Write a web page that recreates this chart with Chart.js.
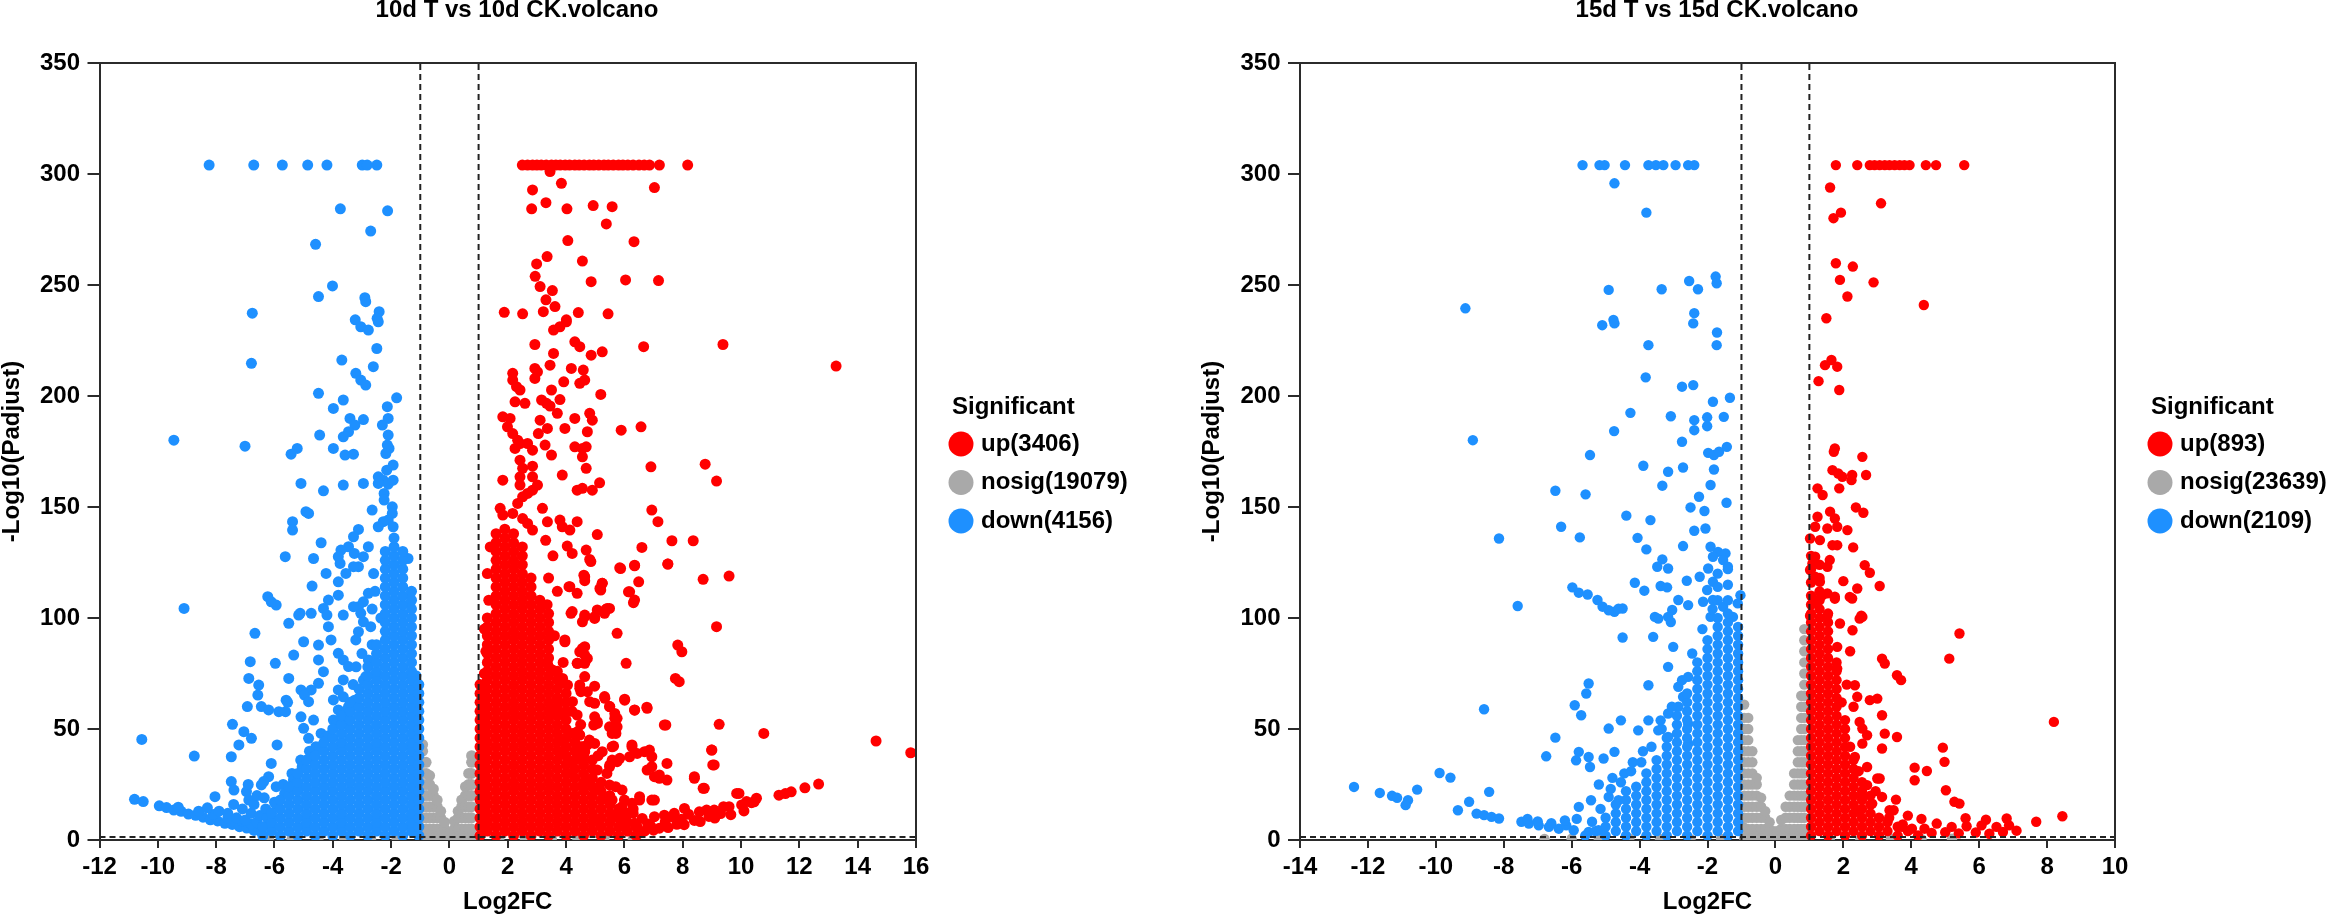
<!DOCTYPE html>
<html>
<head>
<meta charset="utf-8">
<script src="https://cdn.jsdelivr.net/npm/chart.js@4.4.1/dist/chart.umd.min.js"></script>
<style>
  body { margin: 0; background: #fff; }
  #wrap { position: relative; width: 2328px; height: 917px; overflow: hidden; }
  canvas { position: absolute; top: 0; }
</style>
</head>
<body>
<div id="wrap">
  <canvas id="c10" width="1164" height="917" style="left:0px;width:1164px;height:917px"></canvas>
  <canvas id="c15" width="1128" height="917" style="left:1200px;width:1128px;height:917px"></canvas>
</div>
<script>
// ---------- 10d T vs 10d CK ----------
var xTicks10 = [-12, 16];          // x range, step 2
var yTicks = [0, 350];             // y range, step 50
var counts10 = { up: 3406, nosig: 19079, down: 4156 };

// scattered points [log2FC, -log10(padj)]
var up10 = [
  [2.5,304],[2.68,304],[2.85,304],[3.0,304],[3.15,304],[3.32,304],[3.5,304],[3.65,304],[3.8,304],[3.97,304],
  [4.12,304],[4.3,304],[4.45,304],[4.62,304],[4.8,304],[4.95,304],[5.12,304],[5.3,304],[5.45,304],[5.62,304],
  [5.8,304],[5.95,304],[6.12,304],[6.3,304],[6.5,304],[6.68,304],[6.86,304],[7.2,304],[8.17,304],
  [3.45,301.1],[3.84,295.8],[2.85,292.8],[7.03,293.9],[3.31,287.1],[2.82,284.3],[4.03,284.3],[4.93,285.8],
  [5.58,285.3],[5.38,277.5],[4.06,270],[6.33,269.5],[3.35,262.8],[2.99,259.5],[4.56,260.8],[2.94,253.9],
  [3.11,249.3],[3.53,247.5],[4.86,251.5],[6.04,252.3],[7.17,252],[3.31,243.3],[3.62,240.3],[1.88,237.7],
  [2.51,237],[3.22,238],[4.42,237.6],[5.44,237],[4.01,234.3],[13.26,213.5],
  [3.57,229.7],[3.79,231.2],[4.01,233.4],[2.93,223.2],[4.3,224.4],[4.47,222.2],[3.57,219.2],[4.86,218.4],
  [5.24,219.9],[6.66,222.2],[9.38,223.2],[2.17,210.2],[2.17,207.2],[2.3,204.2],[2.42,202.7],[2.93,212.4],
  [2.93,207.9],[3.02,210.9],[3.45,213.9],[4.18,212.4],[4.59,211.7],[4.64,207.2],[4.47,205.7],[3.92,206.4],
  [3.5,202.7],[5.19,200.7],[2.25,197.4],[2.59,196.7],[3.16,198.2],[3.33,196.7],[3.45,195.5],[3.79,198.4],
  [1.83,190.6],[2.08,189.9],[1.99,186.1],[2.17,183.1],[2.34,180.1],[3.11,189.1],[3.7,192.2],[4.3,189.9],
  [4.81,192.2],[4.9,189.1],[3.05,183.1],[3.36,185.4],[3.96,185.4],[4.73,183.9],[5.89,184.6],[6.57,186.1],
  [2.68,178.6],[2.85,175.6],[2.25,176.4],[2.42,178.6],[3.28,177.9],[3.5,173.4],[4.3,177.1],[4.56,176.4],
  [4.69,177.1],[4.56,172.6],[2.42,171.1],[2.51,167.4],[2.85,168.4],[4.69,167.4],[6.91,168.1],[8.77,169.3],
  [1.83,162.1],[2.42,163.6],[2.42,159.9],[3.02,159.9],[2.85,163.6],[3.87,164.4],[4.38,157.6],[4.56,158.4],
  [5.15,160.9],[4.9,157.6],[9.16,161.7],[2.51,154.6],[2.34,151.6],[2.68,156.1],[2.85,157.6],[1.74,149.4],
  [1.83,146.4],[2.17,147.1],[3.19,149.4],[2.51,144.8],[2.68,142.6],[2.85,139.6],[3.36,143.3],[3.79,144.1],
  [3.87,141.1],[4.38,143.4],[4.13,139.6],[6.94,148.6],[7.15,143.4],[5.07,137.6],[7.63,134.8],[8.36,134.8],
  [6.6,131.8],[7.49,124.3],[5.84,122.6],[6.35,123.5],[8.7,117.4],[9.59,118.9],[6.18,111.8],[6.35,108.1],
  [5.24,115.6],[5.19,112.6],[4.69,130.6],[4.81,126.4],[4.04,132.4],[4.21,129.1],[4.64,118.6],[4.13,114.1],
  [4.38,111.1],[5.49,104.3],[5.32,102.1],[3.3,135],[3.55,128],[3.4,118],[3.7,112],[3.35,106],
  [5.75,93.1],[6.31,106.9],[5.37,103.9],[4.98,100.6],[4.64,101.3],[4.21,102.9],[9.16,96.1],[7.83,87.8],
  [7.97,84.8],[6.06,79.6],[7.75,72.8],[7.88,71.3],[6.01,63.4],[6.35,58.6],[6.77,59.8],[7.42,51.8],
  [9.25,52.1],[10.78,48],[9.0,40.5],[9.03,33.8],[8.4,27.8],[8.7,23.3],[9.93,21],[6.94,33],[7.2,29.3],
  [6.26,42.8],[6.69,39.8],[6.94,37.5],[5.92,22.5],[6.52,18],[6.94,18],[5.58,42],[5.75,35.3],[5.49,33],
  [5.49,51],[5.71,48],[5.75,54.8],[5.32,64.6],[5.49,60.1],[4.98,61.6],[5.07,52.5],[4.98,55.5],[4.64,73.6],
  [4.47,68.3],[4.73,66.8],[4.47,84.8],[4.73,81.8],[4.64,87.1],[4.38,79.6],[3.96,89.3],[4.38,56.3],[4.21,48],
  [4.47,42],[4.56,36],[3.87,45],[3.87,39],[4.04,34.5],[3.7,63.1],[3.53,58.6],[3.87,57],[3.36,79.6],
  [3.53,76.6],[3.87,70.6],[4.98,43.5],[5.24,39.8],[5.07,31.5],[4.73,27],[5.07,23.3],[5.49,24.8],[5.92,15],
  [6.26,16.5],[5.58,18],
  [4.85,125.4],[5.87,122.3],[6.35,123.8],[7.49,124.3],[4.61,119.3],[4.64,116.8],[5.16,113.3],[5.24,115.6],
  [4.1,114.1],[6.14,111.8],[6.49,116.3],[5.07,103.6],[5.41,104.3],[4.17,102.1],[4.56,98.3],[4.64,100.6],
  [4.98,99.8],[3.96,90.1],[4.56,86.3],[4.64,83.3],[4.39,79.6],[4.64,79.6],[3.88,72.8],[4.05,69.8],
  [4.47,69.8],[4.51,66.8],[4.81,62.3],[4.22,62.3],[4.98,69.3],[6.01,63],[5.33,63.8],[5.5,60.1],[5.67,57],
  [6.35,58.5],[6.78,59.3],[7.37,51.8],[14.63,44.6],[15.82,39.3],[4.95,51.8],[5.07,53.3],[5.58,48],[5.75,51],
  [5.67,54.8],[4.39,48.8],[4.47,47.3],[4.56,42],[4.73,42.8],[4.47,39],[4.64,39.8],[5.63,42.3],[6.26,42],
  [6.44,39],[6.86,40.5],[8.99,40.5],[9.08,33.8],[5.84,36.8],[6.18,37.5],[5.5,33.8],[5.58,36],[4.98,31.5],
  [4.05,30],[6.78,31.5],[7.03,28.5],[7.2,27.8],[7.46,27],[8.4,28.5],[8.74,23.3],[7.46,34.5],[6.52,19.5],
  [7.03,18],[5.41,18.8],[9.85,21],[8.06,14.2],[8.57,12.7],[9.08,13.5],[9.59,15],[10.02,15.8],[10.36,16.8],
  [6.61,9.7],[7.03,10.5],[7.37,11.2],[7.71,12],[6.01,6.7],[6.35,7.5],
  [10.45,17.2],[11.3,20.2],[11.52,20.9],[11.72,21.7],[12.19,23.5],[12.66,25.2],[6.43,6],[6.8,7.2],
  [7.63,10.5],[8.2,11.6],[8.82,13.5],[9.4,15],[10.19,17.3],[10.53,18.8],[6.7,4.1],[7.2,5.3],[7.8,7.1],
  [8.4,8.8],[6.5,3.1],[7.0,4.4],[7.5,5.6],[8.05,6.9],[8.6,8.3],[9.1,9.9],[9.65,11.4],[10.1,13.1],
  [9.3,11.9],[8.9,10.6],[7.95,9.4],[7.4,8.2],[6.9,6.3],[5.1,8.5],[5.6,10.2],[6.3,12.1],[6.0,11],
  [1.2,75],[1.25,85],[1.2,95],[1.35,108],[1.3,120],[1.4,132],[3.6,92],[3.9,80],[4.2,58],[4.5,52],
  [4.8,45],[5.1,38],[5.4,30],[5.7,24],[6.0,18],[6.3,14]
];
// dense part: [log2FC, y, y, ...] column by column
var up10Fill = [
  [1.05,2,6,10,14,18,22,26,30,34,38,42,46,50,54,58,62,66,70],
  [1.3,4,8,12,16,20,24,28,32,36,40,44,48,52,56,60,64,68,72,76,80,84,88,92,96,100],
  [1.6,2,6,10,14,18,22,26,30,34,38,42,46,50,54,58,62,66,70,74,78,82,86,90,94,98,102,106,110,114,118,122,126,130,134,138],
  [1.9,4,8,12,16,20,24,28,32,36,40,44,48,52,56,60,64,68,72,76,80,84,88,92,96,100,104,108,112,116,120,124,128,132,136,140],
  [2.2,2,6,10,14,18,22,26,30,34,38,42,46,50,54,58,62,66,70,74,78,82,86,90,94,98,102,106,110,114,118,122,126,130,134,138],
  [2.5,4,8,12,16,20,24,28,32,36,40,44,48,52,56,60,64,68,72,76,80,84,88,92,96,100,104,108,112,116,120,124,128,132],
  [2.8,2,6,10,14,18,22,26,30,34,38,42,46,50,54,58,62,66,70,74,78,82,86,90,94,98,102,106,110,114,118],
  [3.1,4,8,12,16,20,24,28,32,36,40,44,48,52,56,60,64,68,72,76,80,84,88,92,96,100,104,108],
  [3.4,2,6,10,14,18,22,26,30,34,38,42,46,50,54,58,62,66,70,74,78,82,86,90,94,98,102],
  [3.7,4,8,12,16,20,24,28,32,36,40,44,48,52,56,60,64,68,72,76],
  [4.0,2,6,10,14,18,22,26,30,34,38,42,46,50,54,58,62,66],
  [4.3,4,8,12,16,20,24,28,32,36,40,44,48],
  [4.6,2,6,10,14,18,22,26,30,34,38,42],
  [4.9,4,8,12,16,20,24,28,32,36],
  [5.2,2,6,10,14,18,22,26],
  [5.5,4,8,12,16,20],
  [5.8,2,6,10,14],
  [6.1,4,8,12],
  [6.4,2,6]
];

var down10 = [
  [-8.24,304],[-6.71,304],[-5.73,304],[-4.86,304],[-4.2,304],[-2.99,304],[-2.82,304],[-2.49,304],
  [-3.74,284.3],[-2.12,283.4],[-2.7,274.3],[-4.59,268.3],[-4.01,249.6],[-4.49,244.8],[-2.9,244.3],
  [-2.87,242.5],[-6.76,237.3],[-2.41,238],[-3.23,234.3],[-2.48,235],[-3.04,231.2],[-2.78,229.7],
  [-2.44,233.4],[-2.49,221.4],[-2.61,213.2],[-3.69,216.2],[-6.79,214.7],[-3.21,210.2],[-3.04,207.2],
  [-2.87,204.9],[-4.49,201.2],[-3.64,198.2],[-3.98,194.4],[-1.81,199.2],[-2.13,195.2],[-2.1,189.9],
  [-3.41,189.9],[-3.24,186.9],[-3.64,181.6],[-3.46,183.9],[-2.95,189.4],[-2.3,186.9],[-4.45,182.4],
  [-9.45,180.1],[-7.01,177.4],[-2.1,182.4],[-2.13,177.9],[-2.07,176.4],[-2.18,174.1],[-3.98,176.4],
  [-3.58,173.4],[-3.29,173.8],[-5.22,176.4],[-5.43,173.8],[-1.93,168.9],[-2.15,166.6],[-2.44,163.6],
  [-2.27,162.1],[-2.1,160.3],[-1.93,162.1],[-2.44,160.6],[-2.95,160.6],[-3.64,159.9],[-5.09,160.6],
  [-4.32,157.3],[-2.24,156.1],[-2.24,153.1],[-1.96,150.1],[-1.96,147.1],[-2.1,144.1],[-1.93,141.1],
  [-2.27,143.4],[-2.44,141.1],[-2.65,148.6],[-4.83,147.1],[-4.92,147.9],[-5.38,143.4],[-5.38,139.6],
  [-4.4,133.9],[-3.12,139.9],[-3.29,136.6],[-3.46,132.1],[-3.26,129.1],[-3.72,130.6],[-3.81,127.6],
  [-3.75,124.6],[-5.63,127.6],[-4.66,126.8],[-2.78,132.1],[-2.95,127.6],[-3.12,123.1],[-3.29,123.1],
  [-4.23,120.1],[-3.55,120.1],[-4.71,114.4],[-3.81,116.3],[-6.23,109.6],[-5.94,105.8],[-4.32,104.3],
  [-4.15,108.1],[-3.81,110.3],[-2.78,111.1],[-2.95,107.3],[-3.12,105.1],[-9.1,104.3],[-5.12,102.1],
  [-4.74,102.1],[-1.42,126.8],[-2.6,120],[-2.55,112],[-2.65,104],
  [-10.55,45.3],[-10.8,18.3],[-10.5,17.3],[-8.75,37.8],[-8.04,19.5],[-7.44,52.1],[-7.05,48.8],
  [-6.79,45.8],[-7.22,42.8],[-7.48,37.5],[-7.48,26.3],[-7.39,22.5],[-6.96,21.8],[-6.88,18],[-6.83,80.3],
  [-6.88,72.8],[-6.93,60.1],[-6.67,93.1],[-6.54,69.8],[-6.57,65.3],[-6.11,107.3],[-5.97,79.6],
  [-6.45,60.1],[-6.2,58.6],[-5.85,57.8],[-5.51,72.8],[-5.91,42.8],[-5.6,63],[-5.55,62],[-5.62,57.8],
  [-6.11,34.5],[-6.2,28.5],[-6.37,26.3],[-6.45,24.8],[-5.94,24],[-5.51,22.5],[-5.17,24],[-5.51,97.6],
  [-5.17,101.3],[-5.34,83.3],[-5.0,89.3],[-4.49,87.8],[-4.06,90.1],[-4.15,96.1],[-3.64,101.3],
  [-4.2,101.3],[-4.49,81.1],[-4.32,75.8],[-4.74,67.6],[-5.09,67.6],[-4.97,65.3],[-4.49,70.6],
  [-4.83,62.3],[-5.09,55.5],[-5.0,50.3],[-4.83,45.8],[-4.58,42],[-4.66,54],[-4.4,48],[-4.23,46.5],
  [-3.81,84.1],[-3.64,81.1],[-3.46,78.1],[-3.64,72.1],[-3.81,67.6],[-3.98,63.1],[-3.64,64.5],
  [-3.46,60.1],[-3.81,58.6],[-3.98,54],[-3.64,52.5],[-3.21,90.1],[-3.12,93.8],[-2.7,96.1],[-2.95,98.3],
  [-3.04,102.1],[-3.29,105.1],[-2.78,81.1],[-2.87,73.6],[-3.3,70],[-3.2,78],[-3.0,84],
  [-9.95,15.4],[-9.7,14.6],[-9.45,13.5],[-9.2,12.9],[-8.95,11.7],[-8.7,11.1],[-8.45,10.3],[-8.2,9.1],
  [-7.95,8.6],[-7.7,7.5],[-7.45,7.0],[-7.2,6.0],[-6.95,5.4],[-6.7,4.3],[-6.45,3.6],[-9.3,14.8],
  [-8.6,13.0],[-8.1,11.5],[-7.6,9.8],[-7.1,8.5],[-6.8,7.2],[-7.9,13],[-8.3,14.5],[-7.6,12],[-7.3,10],
  [-7.0,9],[-6.8,12],[-6.6,8],[-7.1,14],[-6.7,16],[-6.5,11],[-7.4,16],[-6.9,25],[-6.6,20],[-6.3,14],
  [-6.35,19],[-6.0,17],[-5.7,25],[-5.4,30],[-5.1,36],[-4.8,40],
  [-6.25,10],[-5.95,16],[-5.65,21],[-5.35,27],[-5.05,33],[-4.75,37],[-4.45,42],[-4.15,47],[-3.85,53],
  [-3.55,58],[-3.25,63],[-2.95,72],[-2.65,88],[-2.35,100],[-1.15,74]
];
var down10Fill = [
  [-6.4,2,6],
  [-6.1,4,8,12],
  [-5.8,2,6,10,14,18],
  [-5.5,4,8,12,16,20,24],
  [-5.2,2,6,10,14,18,22,26,30],
  [-4.9,4,8,12,16,20,24,28,32,36],
  [-4.6,2,6,10,14,18,22,26,30,34,38],
  [-4.3,4,8,12,16,20,24,28,32,36,40,44],
  [-4.0,2,6,10,14,18,22,26,30,34,38,42,46,50],
  [-3.7,4,8,12,16,20,24,28,32,36,40,44,48,52,56],
  [-3.4,2,6,10,14,18,22,26,30,34,38,42,46,50,54,58,62],
  [-3.1,4,8,12,16,20,24,28,32,36,40,44,48,52,56,60,64,68],
  [-2.8,2,6,10,14,18,22,26,30,34,38,42,46,50,54,58,62,66,70,74,78],
  [-2.5,4,8,12,16,20,24,28,32,36,40,44,48,52,56,60,64,68,72,76,80,84,88],
  [-2.2,2,6,10,14,18,22,26,30,34,38,42,46,50,54,58,62,66,70,74,78,82,86,90,94,98,102,106,110,114,118,122,126,130],
  [-1.9,4,8,12,16,20,24,28,32,36,40,44,48,52,56,60,64,68,72,76,80,84,88,92,96,100,104,108,112,116,120,124,128,132,136],
  [-1.6,2,6,10,14,18,22,26,30,34,38,42,46,50,54,58,62,66,70,74,78,82,86,90,94,98,102,106,110,114,118,122,126,130],
  [-1.3,4,8,12,16,20,24,28,32,36,40,44,48,52,56,60,64,68,72,76,80,84,88,92,96,100,104,108,112],
  [-1.05,2,6,10,14,18,22,26,30,34,38,42,46,50,54,58,62,66,70]
];

var nosig10 = [
  [-6.2,0.6],[-5.4,0.4],[-4.5,0.7],[-3.6,0.5],[-2.7,0.4],[-1.8,0.6],
  [1.7,0.5],[2.6,0.4],[3.5,0.7],[4.4,0.5],[5.3,0.6],[6.3,0.4]
];
var nosig10Fill = [
  [-0.92,1,5,10,15,20,25,30,35,40,43],
  [-0.8,1,5,10,15,20,25,30,35],
  [-0.68,1,5,10,15,20,25,29],
  [-0.55,1,5,10,15,20,23],
  [-0.42,1,5,10,15,18],
  [-0.3,1,5,10,13],
  [-0.17,1,5,8],
  [-0.05,1,3.5],
  [0.05,1,3.5],
  [0.17,1,5,8.5],
  [0.3,1,5,10,13],
  [0.42,1,5,10,15,18],
  [0.55,1,5,10,15,20,24],
  [0.66,1,5,10,15,20,25,30],
  [0.76,1,5,10,15,20,25,30,35,38]
];

// ---------- 15d T vs 15d CK ----------
var xTicks15 = [-14, 10];
var counts15 = { up: 893, nosig: 23639, down: 2109 };

var up15 = [
  [1.78,304],[2.41,304],[2.78,304],[2.92,304],[3.07,304],[3.22,304],[3.36,304],[3.51,304],[3.66,304],
  [3.8,304],[3.95,304],[4.43,304],[4.73,304],[5.56,304],
  [1.61,293.9],[3.11,286.8],[1.93,282.6],[1.71,280.1],[1.78,259.8],[2.28,258.3],[1.9,252.3],[2.89,251.2],
  [2.12,244.8],[4.37,241],[1.5,235],[1.46,213.9],[1.65,216.2],[1.82,213.2],[1.27,206.7],[1.88,202.7],
  [1.72,174.9],[1.75,176.4],[2.56,172.6],[1.68,166.6],[1.85,165.1],[1.97,163.6],[2.26,164.4],[2.67,164.4],
  [2.24,162.1],[1.24,158.4],[1.39,155.4],[1.88,158.4],[2.37,149.8],[2.59,147.4],[1.24,145.6],[1.61,147.9],
  [1.75,144.8],[1.17,141.1],[1.53,140.3],[1.82,141.1],[2.12,139.6],[1.02,135.8],[1.31,135.1],[1.68,132.8],
  [1.82,132.8],[2.29,131.8],[1.17,127.6],[1.09,124.6],[1.6,126.1],[1.53,123.1],[1.02,121.6],[2.63,123.8],
  [2.78,120.4],[1.17,118.6],[1.31,116.3],[2.0,116.6],[2.41,113.3],[3.07,114.4],[1.39,110.3],[1.53,111.1],
  [1.75,109.6],[2.26,108.8],[1.09,106.6],[1.24,108.1],[1.02,101],[1.53,101],[2.53,101],
  [5.42,93],[5.12,81.7],[3.14,81.7],[3.22,79.5],[3.58,74.2],[3.7,72],[8.2,53.2],[4.93,41.6],[4.98,35.2],
  [4.1,32.6],[4.46,31.1],[4.1,26.9],[5.02,22.4],[3.55,18.2],[3.48,13.4],[5.27,17.2],[5.42,16.4],[4.75,7.4],
  [5.19,5.9],[5.63,6.2],[6.07,6.6],[6.51,5.9],[6.81,9.7],[6.88,6.6],[7.68,8.2],[8.45,10.7],[3.73,5.9],
  [4.02,5.1],[4.39,5.1],[3.36,13.4],[3.14,19.4],[3.07,27.7],[3.22,47.9],[3.14,41.2],[3.58,46.4],[2.7,47.2],
  [2.56,43.4],[2.41,64.5],[2.78,63],[3.0,63.7],[3.14,56.2],[2.48,53.2],[2.56,50.2],[2.34,69.7],[1.9,97.5],
  [2.27,94.5],[2.56,100.5],[2.48,99.7],[2.19,109.5],[1.75,108.7],[1.82,87],[1.82,77.2],[2.34,37.4],[2.7,32.9],
  [3.0,27.7],[2.7,24.7],[2.56,19.4],[2.85,16.4],[2.41,13.4],[4.6,3.2],[5.0,3.5],[5.4,3.0],[5.9,3.4],
  [6.3,2.8],[6.7,3.6],[7.1,4.2],[5.6,9.8],[6.2,9.1],[4.3,9.5],[3.9,11],[2.2,85],[2.1,70],[2.3,60],
  [3.35,10],[3.75,7],[2.95,22],[2.2,42],[2.45,31],[1.95,62]
];
var up15Fill = [
  [1.05,2,6,10,14,18,22,26,30,34,38,42,46,50,54,58,62,66,70,74,78,82,86,90,94,98,102,106,110,116,122,128],
  [1.3,4,8,12,16,20,24,28,32,36,40,44,48,52,56,60,64,68,72,76,80,84,88,92,96,100,104,108,112,118,124],
  [1.55,2,6,10,14,18,22,26,30,34,38,42,46,50,54,58,62,66,70,74,78,82,86,90,94,98,102],
  [1.8,4,8,12,16,20,24,28,32,36,40,44,48,52,56,60,64,68,72,76,80],
  [2.05,2,6,10,14,18,22,26,30,34,38,42,46,50,54],
  [2.3,4,8,12,16,20,24,28,32,36],
  [2.55,2,6,10,14,18,22,26],
  [2.8,4,8,12,16,20],
  [3.05,2,6,10],
  [3.3,4,8],
  [3.6,2,6],
  [3.9,4],
  [4.2,2]
];

var down15 = [
  [-5.68,304],[-5.18,304],[-5.03,304],[-4.43,304],[-3.74,304],[-3.52,304],[-3.3,304],[-2.94,304],
  [-2.57,304],[-2.39,304],
  [-4.74,295.8],[-3.8,282.6],[-1.76,253.8],[-1.73,250.8],[-2.54,251.8],[-2.28,248.1],[-3.35,248.1],
  [-4.91,247.8],[-9.13,239.5],[-2.39,237.3],[-4.77,234.3],[-2.42,232.7],[-5.1,231.9],[-4.74,232.7],
  [-1.72,228.6],[-1.73,222.9],[-3.74,222.9],[-3.82,208.4],[-2.75,204.2],[-2.42,204.9],[-1.34,199.2],
  [-1.84,197.4],[-4.27,192.4],[-3.08,190.9],[-2.39,189.1],[-2.01,190.4],[-1.52,190.6],[-2.01,186.4],
  [-2.39,184.6],[-8.91,180.1],[-4.75,184.2],[-2.75,179.4],[-1.98,174.4],[-1.81,173.4],[-1.66,174.9],
  [-1.43,177.1],[-5.46,173.4],[-3.89,168.6],[-3.16,165.9],[-2.72,167.8],[-1.81,166.9],[-1.91,159.9],
  [-3.33,159.6],[-6.48,157.3],[-5.59,155.7],[-2.25,154.6],[-2.5,149.8],[-2.09,148.2],[-1.44,151.9],
  [-4.39,146.1],[-3.68,144.1],[-6.31,141.1],[-5.76,136.3],[-8.14,135.8],[-2.39,139.3],[-2.06,140.3],
  [-4.06,136.1],[-2.72,132.4],[-3.8,130.9],[-1.91,132.1],[-1.69,129.8],[-1.47,129.1],[-1.84,127.6],
  [-1.54,126.1],[-1.4,123.1],[-1.98,122.3],[-3.33,126.4],[-3.48,123.1],[-3.16,122.3],[-4.14,115.9],
  [-3.86,112.3],[-3.38,114.4],[-3.19,113.8],[-2.61,116.8],[-2.23,118.6],[-1.84,116.3],[-2.01,112.6],
  [-1.03,110.3],[-5.98,113.8],[-5.79,111.4],[-5.53,110.6],[-7.59,105.4],[-5.24,108.1],[-5.09,105.1],
  [-4.74,102.8],[-4.5,104.3],[-2.86,108.1],[-2.57,105.8],[-2.13,107.3],[-1.84,108.1],[-1.54,105.1],
  [-1.11,106.6],[-3.04,103.6],[-3.55,100.5],[-3.16,100.5],[-1.91,100.5],[-1.25,100.5],
  [-4.5,91.2],[-3.45,99.7],[-3.08,98.2],[-4.91,103.5],[-4.62,104.2],[-8.58,58.9],[-5.5,70.5],[-5.57,66],
  [-5.91,60.7],[-5.72,56.2],[-6.48,46.1],[-6.75,37.7],[-5.87,35.9],[-5.79,39.7],[-5.5,37.4],[-5.46,32.9],
  [-5.06,36.7],[-4.74,39.7],[-4.91,50.2],[-4.55,53.9],[-4.04,49.4],[-3.74,69.7],[-3.74,53.9],[-3.38,53.9],
  [-9.89,30.2],[-9.57,28.1],[-12.41,23.9],[-11.65,21.2],[-11.29,19.9],[-11.14,19],[-10.82,17.9],
  [-10.89,15.7],[-10.55,22.7],[-9.35,13.4],[-9.02,17.2],[-8.43,21.7],[-8.8,11.9],[-8.58,11.2],[-8.36,10.4],
  [-8.14,9.7],[-7.48,8.2],[-7.26,7.4],[-6.97,6.6],[-6.67,5.9],[-6.38,5.1],[-6.16,6.6],[-5.79,14.9],
  [-5.43,17.9],[-4.91,19.4],[-4.62,17.9],[-5.94,4.4],[-5.5,3.6],[-5.21,4.4],
  [-3.6,91.5],[-3.01,87],[-3.16,78],[-2.86,69],[-2.57,73.5],[-2.72,64.5],[-2.86,60],[-3.16,57],
  [-3.45,49.4],[-3.16,46.4],[-2.57,43.4],[-2.57,52.4],[-4.2,35],[-4.45,30],[-3.9,40],[-5.2,25],[-4.8,28],
  [-7.3,9.5],[-7.0,8.4],[-6.6,7.6],[-6.2,8.8],[-5.85,9.5],[-5.4,8.2],[-5.15,14],[-4.85,23],[-4.55,26],
  [-4.25,31],[-3.95,35],[-3.65,42],[-3.35,50],[-3.05,60],[-2.75,72],[-2.45,84],[-2.15,95],[-1.85,104]
];
var down15Fill = [
  [-5.6,2],
  [-5.3,4],
  [-5.0,2,6,10],
  [-4.7,4,8,12,16],
  [-4.4,2,6,10,14,18,22],
  [-4.1,4,8,12,16,20,24],
  [-3.8,2,6,10,14,18,22,26,30],
  [-3.5,4,8,12,16,20,24,28,32,36],
  [-3.2,2,6,10,14,18,22,26,30,34,38,42,46],
  [-2.9,4,8,12,16,20,24,28,32,36,40,44,48,52,56],
  [-2.6,2,6,10,14,18,22,26,30,34,38,42,46,50,54,58,62,66],
  [-2.3,4,8,12,16,20,24,28,32,36,40,44,48,52,56,60,64,68,72,76,80],
  [-2.0,2,6,10,14,18,22,26,30,34,38,42,46,50,54,58,62,66,70,74,78,82,86,90],
  [-1.7,4,8,12,16,20,24,28,32,36,40,44,48,52,56,60,64,68,72,76,80,84,88,92,96,100,108,114,120],
  [-1.4,2,6,10,14,18,22,26,30,34,38,42,46,50,54,58,62,66,70,74,78,82,86,90,94,98,102,108,115,122],
  [-1.1,4,8,12,16,20,24,28,32,36,40,44,48,52,56,60,64,68,72,76,80,84,88,92,96]
];

var nosig15 = [
  [-6.8,0.5],[-6.0,0.6],[-5.2,0.4],[-4.3,0.7],[-3.4,0.5],[-2.5,0.4],[-1.6,0.6],
  [1.6,0.5],[2.5,0.4],[3.4,0.7],[4.3,0.5],[5.2,0.6]
];
var nosig15Fill = [
  [-0.92,1,5.5,10,15,20,25,30,35,40,45,50,55,61],
  [-0.8,1,5,10,15,20,25,30,35,40,45,50,55],
  [-0.68,1,5,10,15,20,25,30,35,40],
  [-0.55,1,5,10,15,20,25,28],
  [-0.42,1,5,10,15,19],
  [-0.3,1,5,10,13],
  [-0.17,1,4.5,8],
  [-0.05,1,4],
  [0.05,1,4],
  [0.17,1,5,9],
  [0.3,1,5,10,15],
  [0.42,1,5,10,15,20],
  [0.55,1,5,10,15,20,25,30],
  [0.66,1,5,10,15,20,25,30,35,40,45],
  [0.76,1,5,10,15,20,25,30,35,40,45,50,55,60,65],
  [0.85,1,5,10,15,20,25,30,35,40,45,50,55,60,65,70,75,80,85,90,95]
];

var colUp = '#ff0000', colNo = '#a9a9a9', colDown = '#1e90ff', colAxis = '#2b2b2b';
var fontFam = "'Liberation Sans', Arial, Helvetica, sans-serif";

Chart.defaults.font.family = fontFam;
Chart.defaults.font.size = 24;
Chart.defaults.font.weight = 'bold';
Chart.defaults.color = '#000';

function pts(pairs, cols) {
  var out = pairs.map(function (p) { return { x: p[0], y: p[1] }; });
  cols.forEach(function (c) {
    for (var i = 1; i < c.length; i++) out.push({ x: c[0], y: c[i] });
  });
  return out;
}

function dashed(data) {
  return {
    data: data, showLine: true, pointRadius: 0, borderColor: '#222',
    borderWidth: 2, borderDash: [6, 4], fill: false
  };
}

function dots(label, data, color, r) {
  return {
    label: label, data: data, backgroundColor: color, borderWidth: 0,
    pointRadius: r, pointHoverRadius: r
  };
}

// frame, title and legend
var panelPlugin = {
  id: 'panel',
  afterDraw: function (chart, args, opts) {
    var ctx = chart.ctx, a = chart.chartArea;
    ctx.save();
    ctx.strokeStyle = colAxis;
    ctx.lineWidth = 2;
    ctx.beginPath();
    ctx.moveTo(a.left, a.top);
    ctx.lineTo(a.right, a.top);
    ctx.lineTo(a.right, a.bottom);
    ctx.stroke();

    ctx.fillStyle = '#000';
    ctx.font = 'bold 24px ' + fontFam;
    ctx.textAlign = 'center';
    ctx.textBaseline = 'middle';
    ctx.fillText(opts.title, opts.titleX, 10);

    ctx.textAlign = 'left';
    ctx.fillText('Significant', a.right + 36, 407);
    var items = opts.items;
    for (var i = 0; i < items.length; i++) {
      var y = 444 + i * 38.5;
      ctx.fillStyle = items[i][1];
      ctx.beginPath();
      ctx.arc(a.right + 45, y, 12.5, 0, Math.PI * 2);
      ctx.fill();
      ctx.fillStyle = '#000';
      ctx.fillText(items[i][0], a.right + 65, y);
    }
    ctx.restore();
  }
};

function drawVolcano(id, cfg) {
  var tickFont = { size: 24, weight: 'bold', lineHeight: 1 };
  return new Chart(document.getElementById(id), {
    type: 'scatter',
    data: {
      datasets: [
        dashed([{ x: -1, y: 0 }, { x: -1, y: 350 }]),
        dashed([{ x: 1, y: 0 }, { x: 1, y: 350 }]),
        dashed([{ x: cfg.xr[0], y: 1.3 }, { x: cfg.xr[1], y: 1.3 }]),
        dots('up', cfg.up, colUp, cfg.r),
        dots('down', cfg.down, colDown, cfg.r),
        dots('nosig', cfg.nosig, colNo, cfg.r)
      ]
    },
    options: {
      responsive: false,
      devicePixelRatio: 1,
      animation: false,
      events: [],
      layout: { padding: { left: 0, top: 63, right: cfg.padRight, bottom: 0 } },
      plugins: {
        legend: { display: false },
        tooltip: { enabled: false },
        panel: { title: cfg.title, titleX: cfg.titleX, items: cfg.items }
      },
      scales: {
        x: {
          type: 'linear', min: cfg.xr[0], max: cfg.xr[1],
          ticks: { stepSize: 2, padding: 7, font: tickFont, color: '#000' },
          grid: { drawOnChartArea: false, drawTicks: true, tickLength: 8, color: colAxis, lineWidth: 2 },
          border: { display: true, color: colAxis, width: 2 },
          title: { display: true, text: 'Log2FC', font: tickFont, padding: { top: 0, bottom: 3 }, color: '#000' },
          afterFit: function (s) { s.height = 77; }
        },
        y: {
          type: 'linear', min: yTicks[0], max: yTicks[1],
          ticks: { stepSize: 50, padding: 7.5, font: tickFont, color: '#000' },
          grid: { drawOnChartArea: false, drawTicks: true, tickLength: 12, color: colAxis, lineWidth: 2 },
          border: { display: true, color: colAxis, width: 2 },
          title: { display: true, text: '-Log10(Padjust)', font: tickFont, padding: { top: 0, bottom: 0 }, color: '#000' },
          afterFit: function (s) { s.width = cfg.yw; }
        }
      }
    },
    plugins: [panelPlugin]
  });
}

drawVolcano('c10', {
  title: '10d T vs 10d CK.volcano', titleX: 517, xr: xTicks10, r: 5.5, yw: 99.5, padRight: 248,
  up: pts(up10, up10Fill), down: pts(down10, down10Fill), nosig: pts(nosig10, nosig10Fill),
  items: [['up(' + counts10.up + ')', colUp], ['nosig(' + counts10.nosig + ')', colNo], ['down(' + counts10.down + ')', colDown]]
});

drawVolcano('c15', {
  title: '15d T vs 15d CK.volcano', titleX: 517, xr: xTicks15, r: 5.2, yw: 100, padRight: 213,
  up: pts(up15, up15Fill), down: pts(down15, down15Fill), nosig: pts(nosig15, nosig15Fill),
  items: [['up(' + counts15.up + ')', colUp], ['nosig(' + counts15.nosig + ')', colNo], ['down(' + counts15.down + ')', colDown]]
});
</script>
</body>
</html>
